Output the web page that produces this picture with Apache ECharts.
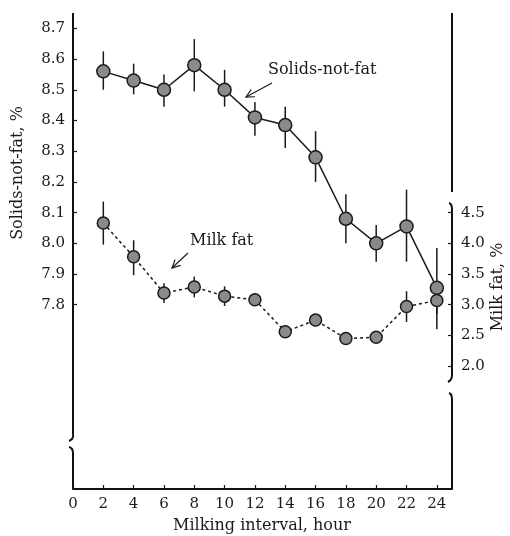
<!DOCTYPE html>
<html>
<head>
<meta charset="utf-8">
<script src="https://cdn.jsdelivr.net/npm/echarts@6/dist/echarts.min.js"></script>
<style>
  html, body { margin: 0; padding: 0; background: #fff; }
  #chart { width: 510px; height: 536px; }
</style>
</head>
<body>
<div id="chart"></div>
<script>
// milking interval (hour)
const hours = [2, 4, 6, 8, 10, 12, 14, 16, 18, 20, 22, 24]

// solids-not-fat, % (left axis)
const snf = [8.56, 8.53, 8.50, 8.58, 8.50, 8.41, 8.385, 8.28, 8.08, 8.00, 8.055, 7.855]
const snfLow = [8.50, 8.485, 8.445, 8.495, 8.445, 8.35, 8.31, 8.20, 8.00, 7.94, 7.94, 7.72]
const snfHigh = [8.625, 8.585, 8.55, 8.665, 8.565, 8.46, 8.445, 8.365, 8.16, 8.06, 8.175, 7.985]

// milk fat, % (right axis)
const fat = [4.33, 3.78, 3.19, 3.29, 3.14, 3.08, 2.56, 2.75, 2.45, 2.47, 2.97, 3.07]
const fatLow = [3.98, 3.48, 3.03, 3.12, 2.98, 2.98, 2.46, 2.65, 2.37, 2.39, 2.72, 2.85]
const fatHigh = [4.68, 4.05, 3.35, 3.46, 3.30, 3.18, 2.66, 2.85, 2.53, 2.55, 3.22, 3.25]

const xTicks = [0, 2, 4, 6, 8, 10, 12, 14, 16, 18, 20, 22, 24]
const snfTicks = [7.8, 7.9, 8.0, 8.1, 8.2, 8.3, 8.4, 8.5, 8.6, 8.7]
const fatTicks = [2.0, 2.5, 3.0, 3.5, 4.0, 4.5]

const FONT = 'DejaVu Serif'
const INK = '#1a1a1a'

const chart = echarts.init(document.getElementById('chart'))

function errorSeries(low, high, yAxisIndex) {
  return {
    type: 'custom',
    yAxisIndex,
    z: 1,
    silent: true,
    encode: { x: 0, y: [1, 2] },
    data: hours.map((h, i) => [h, low[i], high[i]]),
    renderItem(params, api) {
      const a = api.coord([api.value(0), api.value(1)])
      const b = api.coord([api.value(0), api.value(2)])
      return {
        type: 'line',
        shape: { x1: a[0], y1: a[1], x2: b[0], y2: b[1] },
        style: { stroke: INK, lineWidth: 1.5 },
      }
    },
  }
}

function arrow(x1, y1, x2, y2) {
  const len = Math.hypot(x2 - x1, y2 - y1)
  const ux = (x2 - x1) / len
  const uy = (y2 - y1) / len
  const bx = x2 - ux * 8
  const by = y2 - uy * 8
  const style = { stroke: INK, lineWidth: 1.2, fill: null }
  return [
    { type: 'line', shape: { x1, y1, x2, y2 }, style },
    {
      type: 'polyline',
      shape: { points: [[bx - uy * 4, by + ux * 4], [x2, y2], [bx + uy * 4, by - ux * 4]] },
      style,
    },
  ]
}

const axisStyle = { stroke: '#111', lineWidth: 2, fill: null }
const seg = (x1, y1, x2, y2) => ({ type: 'line', shape: { x1, y1, x2, y2 }, style: axisStyle })
const hook = (x1, y1, cpx1, cpy1, x2, y2) => ({
  type: 'bezierCurve',
  shape: { x1, y1, cpx1, cpy1, x2, y2 },
  style: axisStyle,
})

const labelText = { fontFamily: FONT, fontSize: 15, color: INK }

chart.setOption({
  animation: false,
  backgroundColor: '#fff',
  grid: { left: 73, right: 58, top: 13, bottom: 47 },
  xAxis: {
    type: 'value',
    min: 0,
    max: 25,
    interval: 2,
    axisLine: { show: true, lineStyle: { color: '#111', width: 2 } },
    axisTick: { show: true, inside: true, length: 4, customValues: xTicks, lineStyle: { color: INK, width: 1.2 } },
    axisLabel: { ...labelText, margin: 8, customValues: xTicks },
    splitLine: { show: false },
  },
  yAxis: [
    {
      type: 'value',
      position: 'left',
      min: 7.2,
      max: 8.75,
      axisLine: { show: false },
      axisTick: { show: true, inside: true, length: 4, customValues: snfTicks, lineStyle: { color: INK, width: 1.2 } },
      axisLabel: { ...labelText, margin: 8, customValues: snfTicks, formatter: v => v.toFixed(1) },
      splitLine: { show: false },
    },
    {
      type: 'value',
      position: 'right',
      min: 0,
      max: 7.75,
      axisLine: { show: false },
      axisTick: { show: true, inside: true, length: 4, customValues: fatTicks, lineStyle: { color: INK, width: 1.2 } },
      axisLabel: { ...labelText, margin: 9, customValues: fatTicks, formatter: v => v.toFixed(1) },
      splitLine: { show: false },
    },
  ],
  series: [
    errorSeries(snfLow, snfHigh, 0),
    errorSeries(fatLow, fatHigh, 1),
    {
      name: 'Solids-not-fat',
      type: 'line',
      yAxisIndex: 0,
      z: 3,
      data: hours.map((h, i) => [h, snf[i]]),
      symbol: 'circle',
      symbolSize: 13,
      itemStyle: { color: '#8a8a8a', borderColor: INK, borderWidth: 1.5 },
      lineStyle: { color: INK, width: 1.5 },
    },
    {
      name: 'Milk fat',
      type: 'line',
      yAxisIndex: 1,
      z: 3,
      data: hours.map((h, i) => [h, fat[i]]),
      symbol: 'circle',
      symbolSize: 12,
      itemStyle: { color: '#8a8a8a', borderColor: INK, borderWidth: 1.5 },
      lineStyle: { color: INK, width: 1.5, type: [3, 3] },
    },
  ],
  graphic: [
    // left axis with break
    seg(73, 13, 73, 434),
    hook(73, 434, 74, 439, 69, 441),
    hook(69, 447, 73, 448, 73, 453),
    seg(73, 453, 73, 489),
    // right axis with two breaks
    seg(452, 13, 452, 192),
    hook(449, 203, 452, 204, 452, 209),
    seg(452, 209, 452, 375),
    hook(452, 375, 452, 380, 448, 382),
    hook(449, 393, 452, 394, 452, 399),
    seg(452, 399, 452, 489),
    // annotations
    { type: 'text', x: 268, y: 70, style: { text: 'Solids-not-fat', font: `16px "${FONT}"`, fill: INK, verticalAlign: 'middle' } },
    ...arrow(272, 83, 246, 97),
    { type: 'text', x: 190, y: 241, style: { text: 'Milk fat', font: `16px "${FONT}"`, fill: INK, verticalAlign: 'middle' } },
    ...arrow(188, 253, 172, 268),
    // axis names
    { type: 'text', x: 262, y: 526, style: { text: 'Milking interval, hour', font: `16px "${FONT}"`, fill: INK, align: 'center', verticalAlign: 'middle' } },
    { type: 'text', x: 18, y: 173, rotation: Math.PI / 2, style: { text: 'Solids-not-fat, %', font: `16px "${FONT}"`, fill: INK, align: 'center', verticalAlign: 'middle' } },
    { type: 'text', x: 498, y: 287, rotation: Math.PI / 2, style: { text: 'Milk fat, %', font: `16px "${FONT}"`, fill: INK, align: 'center', verticalAlign: 'middle' } },
  ],
})
</script>
</body>
</html>
